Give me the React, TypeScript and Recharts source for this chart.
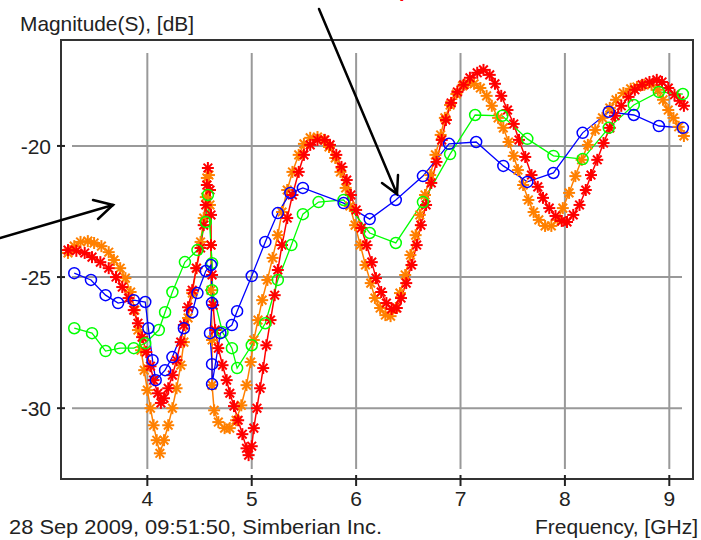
import React from 'react';
import { LineChart, Line, XAxis, YAxis, CartesianGrid, ReferenceArea } from 'recharts';

const FONT = '"Liberation Sans", Arial, sans-serif';

const xTicks = [4, 5, 6, 7, 8, 9];
const yTicks = [-30, -25, -20];
const xDomain: [number, number] = [3.173, 9.227];
const yDomain: [number, number] = [-32.7, -15.96];

const yTitle = 'Magnitude(S), [dB]';
const xTitle = 'Frequency, [GHz]';
const stamp = '28 Sep 2009, 09:51:50, Simberian Inc.';

const bluePts: [number, number][] = [
  [3.30, -24.85], [3.46, -25.11], [3.60, -25.69], [3.72, -25.99], [3.87, -25.88], [3.98, -25.95],
  [4.01, -26.95], [4.05, -28.17], [4.08, -28.93], [4.17, -28.55], [4.24, -28.05], [4.35, -26.95],
  [4.43, -26.34], [4.48, -25.61], [4.56, -24.77], [4.61, -24.54], [4.62, -25.99], [4.60, -27.14],
  [4.62, -28.32], [4.62, -29.08], [4.70, -27.14], [4.81, -26.83], [4.86, -26.30], [5.00, -24.96],
  [5.13, -23.66], [5.25, -22.56], [5.37, -21.79], [5.49, -21.60], [5.88, -22.18], [6.13, -22.79],
  [6.38, -22.06], [6.64, -21.15], [6.89, -19.92], [7.15, -19.85], [7.41, -20.76], [7.64, -21.37],
  [7.89, -21.03], [8.17, -19.50], [8.42, -18.70], [8.66, -18.82], [8.90, -19.24], [9.13, -19.31],
];

const greenPts: [number, number][] = [
  [3.30, -26.95], [3.47, -27.14], [3.60, -27.82], [3.74, -27.71], [3.87, -27.71], [3.98, -27.52],
  [4.11, -27.02], [4.17, -26.34], [4.24, -25.57], [4.36, -24.43], [4.48, -23.97], [4.56, -22.90],
  [4.58, -21.87], [4.62, -24.47], [4.62, -25.50], [4.72, -27.10], [4.81, -27.71], [4.86, -28.47],
  [5.00, -27.60], [5.13, -26.76], [5.25, -25.11], [5.38, -23.78], [5.49, -22.60], [5.64, -22.14],
  [5.88, -22.06], [6.13, -23.32], [6.38, -23.70], [6.64, -22.14], [6.90, -20.31], [7.14, -18.82],
  [7.40, -18.85], [7.64, -19.73], [7.89, -20.38], [8.17, -20.50], [8.42, -19.31], [8.66, -18.44],
  [8.90, -17.94], [9.13, -18.02],
];

const redPts: [number, number][] = [
  [3.24, -23.97], [3.32, -24.0], [3.40, -24.08], [3.47, -24.24], [3.55, -24.43], [3.63, -24.66],
  [3.70, -25.0], [3.76, -25.38], [3.82, -25.80], [3.87, -26.26], [3.91, -26.76], [3.95, -27.29],
  [3.99, -27.86], [4.03, -28.40], [4.06, -28.93], [4.10, -29.43], [4.13, -29.8], [4.16, -29.62],
  [4.20, -29.24], [4.24, -28.74], [4.28, -28.17], [4.32, -27.48], [4.35, -26.83], [4.39, -26.15],
  [4.43, -25.50], [4.47, -24.66], [4.51, -23.89], [4.54, -23.02], [4.56, -22.25], [4.57, -21.49],
  [4.58, -20.84], [4.60, -21.68], [4.61, -22.63], [4.61, -23.78], [4.62, -24.92], [4.63, -26.07],
  [4.65, -27.02], [4.68, -27.71], [4.72, -28.36], [4.76, -28.93], [4.79, -29.43], [4.83, -29.92],
  [4.87, -30.46], [4.91, -30.99], [4.95, -31.53], [4.97, -31.79], [5.00, -31.45], [5.02, -30.76],
  [5.05, -30.0], [5.08, -29.24], [5.11, -28.47], [5.14, -27.60], [5.18, -26.64], [5.22, -25.69],
  [5.25, -24.73], [5.29, -23.78], [5.34, -22.75], [5.39, -21.87], [5.45, -20.99], [5.50, -20.34],
  [5.56, -19.96], [5.63, -19.77], [5.70, -19.77], [5.75, -19.96], [5.81, -20.34], [5.86, -20.80],
  [5.91, -21.30], [5.95, -21.87], [6.00, -22.44], [6.05, -23.13], [6.10, -23.78], [6.15, -24.43],
  [6.19, -25.04], [6.24, -25.57], [6.29, -25.99], [6.34, -26.22], [6.39, -26.18], [6.43, -25.80],
  [6.48, -25.23], [6.53, -24.54], [6.58, -23.78], [6.62, -23.02], [6.67, -22.25], [6.72, -21.41],
  [6.77, -20.61], [6.82, -19.77], [6.86, -19.01], [6.91, -18.36], [6.97, -17.94], [7.03, -17.67],
  [7.09, -17.40], [7.16, -17.21], [7.22, -17.10], [7.28, -17.29], [7.33, -17.63], [7.39, -18.09],
  [7.45, -18.63], [7.51, -19.16], [7.56, -19.77], [7.62, -20.42], [7.68, -21.11], [7.74, -21.56],
  [7.79, -21.98], [7.85, -22.37], [7.91, -22.67], [7.97, -22.86], [8.02, -22.90], [8.08, -22.63],
  [8.14, -22.25], [8.20, -21.68], [8.25, -21.11], [8.31, -20.53], [8.37, -19.89], [8.43, -19.31],
  [8.48, -18.85], [8.54, -18.47], [8.61, -18.13], [8.67, -17.86], [8.74, -17.67], [8.81, -17.56],
  [8.88, -17.48], [8.93, -17.56], [8.99, -17.79], [9.05, -18.05], [9.10, -18.28], [9.14, -18.47],
];

const orangePts: [number, number][] = [
  [3.24, -24.08], [3.30, -23.82], [3.36, -23.66], [3.43, -23.63], [3.49, -23.70], [3.56, -23.82],
  [3.63, -24.05], [3.68, -24.35], [3.74, -24.66], [3.79, -25.04], [3.84, -25.57], [3.88, -26.26],
  [3.91, -27.02], [3.94, -27.79], [3.97, -28.55], [4.00, -29.31], [4.03, -30.0], [4.06, -30.65],
  [4.09, -31.22], [4.12, -31.72], [4.16, -31.22], [4.20, -30.65], [4.24, -30.0], [4.28, -29.24],
  [4.32, -28.36], [4.35, -27.48], [4.39, -26.56], [4.43, -25.61], [4.47, -24.66], [4.51, -23.66],
  [4.54, -22.75], [4.56, -21.95], [4.57, -21.22], [4.59, -21.11], [4.60, -22.25], [4.61, -23.78],
  [4.61, -25.50], [4.62, -27.40], [4.62, -29.12], [4.64, -30.08], [4.68, -30.53], [4.74, -30.76],
  [4.79, -30.76], [4.85, -30.46], [4.90, -29.89], [4.95, -29.12], [4.99, -28.24], [5.02, -27.40],
  [5.06, -26.64], [5.10, -25.88], [5.15, -25.11], [5.20, -24.27], [5.25, -23.40], [5.29, -22.52],
  [5.34, -21.68], [5.39, -20.99], [5.45, -20.34], [5.50, -19.92], [5.56, -19.69], [5.63, -19.66],
  [5.69, -19.77], [5.74, -20.04], [5.80, -20.46], [5.85, -20.99], [5.90, -21.60], [5.94, -22.29],
  [5.99, -23.02], [6.04, -23.78], [6.09, -24.54], [6.14, -25.23], [6.18, -25.80], [6.23, -26.18],
  [6.28, -26.45], [6.33, -26.49], [6.38, -26.18], [6.42, -25.61], [6.47, -24.92], [6.52, -24.16],
  [6.57, -23.40], [6.61, -22.63], [6.66, -21.87], [6.71, -21.11], [6.76, -20.34], [6.81, -19.58],
  [6.85, -18.93], [6.90, -18.44], [6.96, -18.02], [7.02, -17.71], [7.07, -17.60], [7.13, -17.63],
  [7.19, -17.79], [7.25, -18.09], [7.30, -18.47], [7.36, -18.93], [7.41, -19.31], [7.46, -19.85],
  [7.51, -20.38], [7.55, -20.92], [7.60, -21.49], [7.65, -22.06], [7.70, -22.52], [7.75, -22.82],
  [7.81, -23.05], [7.87, -23.05], [7.93, -22.82], [7.98, -22.37], [8.04, -21.79], [8.10, -21.15],
  [8.16, -20.53], [8.22, -19.96], [8.29, -19.39], [8.36, -18.93], [8.43, -18.55], [8.49, -18.24],
  [8.56, -17.98], [8.63, -17.82], [8.69, -17.75], [8.76, -17.67], [8.83, -17.67], [8.89, -17.86],
  [8.94, -18.24], [8.99, -18.63], [9.04, -18.93], [9.09, -19.27], [9.14, -19.62],
];

const toRows = (pts: [number, number][]) => pts.map(([x, y]) => ({ x, y }));

const makeAsterisk = (color: string) => (props: any) => {
  const { cx, cy, index } = props;
  if (cx == null || cy == null) return <g key={`a-${index}`} />;
  const r = 6;
  const d = r * 0.72;
  return (
    <g key={`a-${index}`} stroke={color} strokeWidth={2}>
      <line x1={cx - r} y1={cy} x2={cx + r} y2={cy} />
      <line x1={cx} y1={cy - r} x2={cx} y2={cy + r} />
      <line x1={cx - d} y1={cy - d} x2={cx + d} y2={cy + d} />
      <line x1={cx - d} y1={cy + d} x2={cx + d} y2={cy - d} />
    </g>
  );
};

const XTick = (props: any) => {
  const { x, y, payload } = props;
  return (
    <g>
      <line x1={x} x2={x} y1={y - 4} y2={y + 7} stroke="#222" strokeWidth={2} />
      <text x={x} y={y + 27} textAnchor="middle" fontFamily={FONT} fontSize={21} fill="#222">
        {payload.value}
      </text>
    </g>
  );
};

const YTick = (props: any) => {
  const { x, y, payload } = props;
  return (
    <g>
      <line x1={x - 4} x2={x + 4} y1={y} y2={y} stroke="#222" strokeWidth={2} />
      <text x={x - 10} y={y + 8} textAnchor="end" fontFamily={FONT} fontSize={21} fill="#222">
        {payload.value}
      </text>
    </g>
  );
};

const hLine = (p: any) => (
  <line key={p.key} x1={p.x1 + 11} x2={p.x2 - 11} y1={p.y1} y2={p.y2} stroke="#999" strokeWidth={2} />
);
const vLine = (p: any) => (
  <line key={p.key} x1={p.x1} x2={p.x2} y1={p.y1 + 13} y2={p.y2 - 10} stroke="#999" strokeWidth={2} />
);

export default function App() {
  return (
    <div style={{ position: 'absolute', left: 0, top: 0, width: 701, height: 540, background: '#fff' }}>
      <LineChart width={701} height={540} margin={{ top: 40, right: 8, bottom: 0, left: 0 }}>
        <CartesianGrid horizontal={hLine} vertical={vLine} syncWithTicks />
        <XAxis
          type="number"
          dataKey="x"
          domain={xDomain}
          ticks={xTicks}
          allowDataOverflow
          height={61}
          tickLine={false}
          axisLine={false}
          tickSize={0}
          tickMargin={0}
          tick={<XTick />}
        />
        <YAxis
          type="number"
          dataKey="y"
          domain={yDomain}
          ticks={yTicks}
          allowDataOverflow
          width={61}
          tickLine={false}
          axisLine={false}
          tickSize={0}
          tickMargin={0}
          tick={<YTick />}
        />
        <ReferenceArea
          x1={xDomain[0]}
          x2={xDomain[1]}
          y1={yDomain[0]}
          y2={yDomain[1]}
          fill="none"
          fillOpacity={0}
          stroke="#333"
          strokeWidth={2}
          ifOverflow="visible"
        />
        <Line
          data={toRows(orangePts)}
          dataKey="y"
          stroke="#ff8000"
          strokeWidth={1.5}
          dot={makeAsterisk('#ff8000')}
          isAnimationActive={false}
        />
        <Line
          data={toRows(redPts)}
          dataKey="y"
          stroke="#ff0000"
          strokeWidth={1.5}
          dot={makeAsterisk('#ff0000')}
          isAnimationActive={false}
        />
        <Line
          data={toRows(greenPts)}
          dataKey="y"
          stroke="#00ff00"
          strokeWidth={1.3}
          dot={{ r: 5.5, stroke: '#00ff00', strokeWidth: 1.5, fill: 'none' }}
          isAnimationActive={false}
        />
        <Line
          data={toRows(bluePts)}
          dataKey="y"
          stroke="#0000ff"
          strokeWidth={1.3}
          dot={{ r: 5.5, stroke: '#0000ff', strokeWidth: 1.5, fill: 'none' }}
          isAnimationActive={false}
        />
      </LineChart>
      <svg
        width={701}
        height={540}
        style={{ position: 'absolute', left: 0, top: 0, pointerEvents: 'none' }}
      >
        <text x={20} y={31} fontFamily={FONT} fontSize={21} fill="#222" textLength={174} lengthAdjust="spacingAndGlyphs">
          {yTitle}
        </text>
        <text x={9} y={534} fontFamily={FONT} fontSize={21} fill="#222" textLength={373} lengthAdjust="spacingAndGlyphs">
          {stamp}
        </text>
        <text x={535} y={534} fontFamily={FONT} fontSize={21} fill="#222" textLength={163} lengthAdjust="spacingAndGlyphs">
          {xTitle}
        </text>
        <text x={399} y={-3} fontFamily={FONT} fontSize={20} fontWeight="bold" fill="#ff0000">p</text>
        <g stroke="#000" strokeWidth={2.5} fill="none" strokeLinecap="round">
          <line x1={0} y1={238} x2={113} y2={205} />
          <polyline points="93,200 113,205 98,219" />
          <line x1={319} y1={9} x2={397} y2={194} />
          <polyline points="382,183 397,194 398,175" />
        </g>
      </svg>
    </div>
  );
}
